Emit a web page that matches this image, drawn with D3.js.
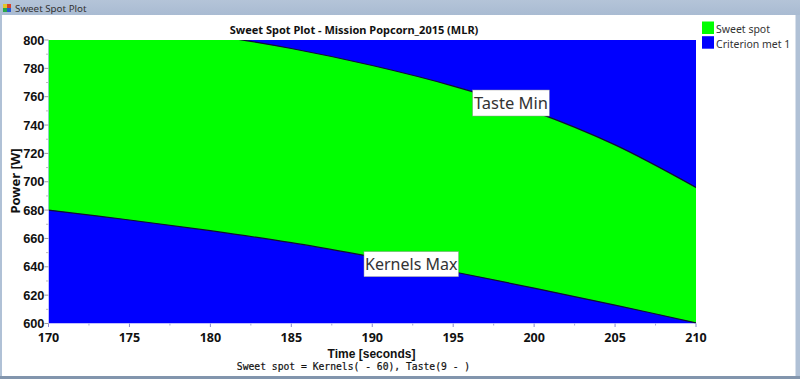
<!DOCTYPE html>
<html><head><meta charset="utf-8">
<script src="https://cdnjs.cloudflare.com/ajax/libs/d3/7.8.5/d3.min.js"></script>
<style>html,body{margin:0;padding:0;background:#fff}svg{display:block}text{fill:#111}</style>
</head><body><svg id="c" width="800" height="379"></svg>
<script>
const times=[170,175,180,185,190,195,200,205,210];
const kernelsMax=[680,673,665.5,657,647,636.5,625,613,600.5];
const tasteMin=[817,811,803.5,794,782,767.5,749.5,726,696];
const xTicks=[170,175,180,185,190,195,200,205,210];
const yTicks=[600,620,640,660,680,700,720,740,760,780,800];
const legendNames=["Sweet spot","Criterion met 1"];
const legendColors=["#00ff00","#0000ff"];
const svg=d3.select("#c");
const x=d3.scaleLinear().domain([170,210]).range([48.5,696]);
const y=d3.scaleLinear().domain([600,800]).range([323.5,40]);
const defs=svg.append("defs");
const g=defs.append("linearGradient").attr("id","tb").attr("x1",0).attr("x2",0).attr("y1",0).attr("y2",1);
g.append("stop").attr("offset",0).attr("stop-color","#b4c4d8");
g.append("stop").attr("offset",1).attr("stop-color","#a9bbd2");
defs.append("clipPath").attr("id","pc").append("rect").attr("x",x(170)).attr("y",y(800)).attr("width",x(210)-x(170)).attr("height",y(600)-y(800));
svg.append("rect").attr("width",800).attr("height",379).attr("fill","#b0c1d6");
svg.append("rect").attr("width",800).attr("height",15).attr("fill","url(#tb)");
svg.append("rect").attr("x",2).attr("y",15).attr("width",793.5).attr("height",361).attr("fill","#fff");
svg.append("rect").attr("x",0).attr("y",376).attr("width",800).attr("height",3).attr("fill","#8295ad");
const ic=svg.append("g");
[["#e2c52a",3,4],["#2aa84a",3,8],["#d8432a",7,4],["#2a5ad0",7,8]].forEach(d=>ic.append("rect").attr("x",d[1]).attr("y",d[2]).attr("width",4).attr("height",4).attr("fill",d[0]));
svg.append("text").attr("x",15).attr("y",12).attr("font-family","Noto Sans").attr("font-size",9.8).style("fill","#333").text("Sweet Spot Plot");

const plot=svg.append("g").attr("clip-path","url(#pc)");
plot.append("rect").attr("x",x(170)).attr("y",y(800)).attr("width",x(210)-x(170)).attr("height",y(600)-y(800)).attr("fill","#0000ff");
const idx=times.map((_,i)=>i);
const curve=d3.curveCatmullRom;
plot.append("path").attr("fill","#00ff00").attr("d",d3.area().x(i=>x(times[i])).y0(i=>y(kernelsMax[i])).y1(i=>y(tasteMin[i])).curve(curve)(idx));
const ln=s=>d3.line().x(i=>x(times[i])).y(i=>y(s[i])).curve(curve)(idx);
[kernelsMax,tasteMin].forEach(s=>plot.append("path").attr("fill","none").attr("stroke","#101030").attr("stroke-width",1.2).attr("d",ln(s)));

const tf="Noto Sans";
const ax=svg.append("g").attr("font-weight",700);
const minorX=d3.range(172.5,210,5), minorY=d3.range(610,800,20);
xTicks.forEach(t=>{ax.append("line").attr("x1",x(t)).attr("x2",x(t)).attr("y1",323.5).attr("y2",327).attr("stroke","#8a8ad0");
 ax.append("text").attr("x",x(t)).attr("y",341.5).attr("text-anchor","middle").attr("font-family",tf).attr("font-size",12.5).text(t);});
minorX.forEach(t=>ax.append("line").attr("x1",x(t)).attr("x2",x(t)).attr("y1",323.5).attr("y2",325.5).attr("stroke","#a8a8d8"));
yTicks.forEach(t=>{ax.append("line").attr("x1",44.5).attr("x2",48.5).attr("y1",y(t)).attr("y2",y(t)).attr("stroke","#9a9a9a");
 ax.append("text").attr("x",44.5).attr("y",y(t)+4.5).attr("text-anchor","end").attr("font-family","Liberation Sans").attr("font-size",12.8).text(t);});
minorY.forEach(t=>ax.append("line").attr("x1",46).attr("x2",48.5).attr("y1",y(t)).attr("y2",y(t)).attr("stroke","#bbb"));
svg.append("text").attr("x",354).attr("y",34).attr("text-anchor","middle").attr("font-family",tf).attr("font-weight",700).attr("font-size",11).text("Sweet Spot Plot - Mission Popcorn_2015 (MLR)");
svg.append("text").attr("x",371.5).attr("y",357.5).attr("text-anchor","middle").attr("font-family","Liberation Sans").attr("font-weight",700).attr("font-size",12).text("Time [seconds]");
svg.append("text").attr("transform","translate(20,181) rotate(-90)").attr("text-anchor","middle").attr("font-family",tf).attr("font-weight",700).attr("font-size",13).text("Power [W]");
svg.append("text").attr("x",353.5).attr("y",370).attr("text-anchor","middle").attr("font-family","DejaVu Sans Mono").attr("font-size",9.7).style("stroke","#111").style("stroke-width",0.2).text("Sweet spot = Kernels( - 60), Taste(9 - )");

const lg=svg.append("g");
legendNames.forEach((n,i)=>{lg.append("rect").attr("x",702).attr("y",21.5+i*14.7).attr("width",12).attr("height",12.5).attr("fill",legendColors[i]);
 lg.append("text").attr("x",716).attr("y",33+i*14.7).attr("font-family",tf).attr("font-size",10.5).style("fill","#333").text(n);});

const labels=[{t:"Taste Min",lx:472.7,ly:90,w:76.6,h:26,s:16.5},{t:"Kernels Max",lx:364,ly:251.7,w:94.5,h:25,s:16}];
labels.forEach(l=>{svg.append("rect").attr("x",l.lx).attr("y",l.ly).attr("width",l.w).attr("height",l.h).attr("fill","#fff").attr("stroke","#999").attr("stroke-width",.5);
 svg.append("text").attr("x",l.lx+l.w/2).attr("y",l.ly+l.h/2+6).attr("text-anchor","middle").attr("font-family",tf).attr("font-size",l.s).style("fill","#333").text(l.t);});
</script></body></html>
